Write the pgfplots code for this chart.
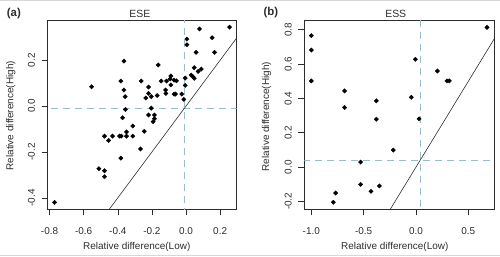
\documentclass[border=0pt]{standalone}
\usepackage{fontspec}
\setmainfont{Liberation Sans}
\usepackage{pgfplots}
\pgfplotsset{compat=1.18}

\definecolor{refcyan}{RGB}{125,200,218}
\definecolor{inkgray}{RGB}{45,45,45}
\definecolor{rulegray}{RGB}{215,215,215}

% Relative differences of the two estimators (Low vs High)
\pgfplotstableread{
x y
-0.771 -0.420
-0.554 0.084
-0.511 -0.273
-0.478 -0.282
-0.478 -0.308
-0.478 -0.131
-0.454 -0.150
-0.431 -0.131
-0.390 -0.131
-0.380 -0.131
-0.382 0.109
-0.382 -0.227
-0.372 -0.051
-0.364 0.196
-0.364 0.070
-0.357 0.041
-0.355 -0.015
-0.349 -0.113
-0.349 -0.131
-0.312 -0.087
-0.312 -0.131
-0.263 0.109
-0.267 -0.187
-0.245 -0.110
-0.236 0.035
-0.220 0.083
-0.220 0.055
-0.220 -0.039
-0.204 0.041
-0.204 -0.009
-0.193 -0.068
-0.185 -0.039
-0.185 -0.055
-0.169 0.046
-0.163 0.179
-0.146 0.109
-0.120 0.070
-0.118 0.055
-0.114 0.109
-0.093 0.118
-0.089 0.131
-0.089 0.092
-0.070 0.052
-0.062 0.052
-0.070 0.113
-0.056 0.110
-0.025 0.052
-0.013 0.029
-0.005 0.122
-0.005 0.090
0.005 0.292
0.005 0.267
0.030 0.135
0.040 0.128
0.048 0.121
0.048 0.167
0.059 0.234
0.071 0.151
0.079 0.336
0.089 0.161
0.153 0.298
0.167 0.234
0.255 0.344
}\eseTable

\pgfplotstableread{
x y
-1.000 0.766
-1.000 0.682
-1.000 0.502
-0.790 -0.205
-0.768 -0.151
-0.682 0.444
-0.682 0.347
-0.529 0.029
-0.529 -0.101
-0.430 -0.141
-0.379 0.386
-0.379 0.279
-0.350 -0.110
-0.217 0.099
-0.045 0.407
-0.006 0.628
0.029 0.281
0.204 0.560
0.296 0.502
0.318 0.502
0.678 0.814
}\essTable

\pgfplotsset{
  rpanel/.style={
    scale only axis,
    anchor=south west,
    height=188.6bp,
    axis line style={inkgray, line width=0.6bp},
    tick style={inkgray, line width=0.6bp},
    tick align=outside,
    major tick length=6bp,
    xtick pos=left,
    ytick pos=left,
    clip=true,
    every tick label/.append style={font=\fontsize{10}{12}\selectfont, text=inkgray},
    xticklabel style={anchor=base, yshift=-19.2bp},
    yticklabel style={xshift=-6.7bp, rotate=90, anchor=base},
    every axis title/.style={anchor=base, font=\fontsize{10.5}{12}\selectfont, text=inkgray},
    every axis x label/.style={anchor=base, font=\fontsize{10}{12}\selectfont, text=inkgray},
    every axis y label/.style={anchor=base, rotate=90, font=\fontsize{10}{12}\selectfont, text=inkgray},
  },
  pts/.style={only marks, mark=square*, mark size=1.6bp,
    mark options={rotate=45, fill=black, draw=black, line width=0.2bp}},
  refdash/.style={refcyan, line width=0.7bp, dash pattern=on 7bp off 5bp},
  diag/.style={inkgray, line width=0.6bp},
}

\begin{document}
\begin{tikzpicture}
\useasboundingbox (0,0) rectangle (500bp,257bp);
\draw[rulegray, line width=1bp] (0,256.3bp) -- (500bp,256.3bp);
\draw[rulegray, line width=1bp] (0,1.3bp) -- (500bp,1.3bp);

\begin{axis}[rpanel,
  at={(47.7bp,47.7bp)}, width=189bp,
  xmin=-0.811, xmax=0.297, ymin=-0.450, ymax=0.372,
  xtick={-0.8,-0.6,-0.4,-0.2,0,0.2},
  xticklabels={-0.8,-0.6,-0.4,-0.2,0.0,0.2},
  ytick={-0.4,-0.2,0,0.2},
  yticklabels={-0.4,-0.2,0.0,0.2},
  title={ESE},
  title style={at={(axis description cs:0.488,1.018)}},
  xlabel={Relative difference(Low)},
  xlabel style={at={(axis description cs:0.471,-0.212)}},
  ylabel={Relative difference(High)},
  ylabel style={at={(axis description cs:-0.182,0.496)}},
]
\addplot[refdash] coordinates {(-0.009,-1) (-0.009,1)};
\addplot[refdash] coordinates {(-1,-0.010) (1,-0.010)};
\addplot[diag] coordinates {(-1,-1) (1,1)};
\addplot[pts] table[x=x, y=y] {\eseTable};
\end{axis}

\begin{axis}[rpanel,
  at={(304.3bp,47.7bp)}, width=189.7bp,
  xmin=-1.067, xmax=0.745, ymin=-0.246, ymax=0.853,
  xtick={-1,-0.5,0,0.5},
  xticklabels={-1.0,-0.5,0.0,0.5},
  ytick={-0.2,0,0.2,0.4,0.6,0.8},
  yticklabels={-0.2,0.0,0.2,0.4,0.6,0.8},
  title={ESS},
  title style={at={(axis description cs:0.482,1.018)}},
  xlabel={Relative difference(Low)},
  xlabel style={at={(axis description cs:0.477,-0.212)}},
  ylabel={Relative difference(High)},
  ylabel style={at={(axis description cs:-0.186,0.491)}},
]
\addplot[refdash] coordinates {(0.038,-1) (0.038,1)};
\addplot[refdash] coordinates {(-2,0.041) (1,0.041)};
\addplot[diag] coordinates {(-1,-1) (1,1)};
\addplot[pts] table[x=x, y=y] {\essTable};
\end{axis}

\node[anchor=base west, font=\bfseries\fontsize{11.5}{13}\selectfont, text=inkgray] at (3.3bp,240.3bp) {(a)};
\node[anchor=base west, font=\bfseries\fontsize{11.5}{13}\selectfont, text=inkgray] at (260bp,241.5bp) {(b)};
\end{tikzpicture}
\end{document}
